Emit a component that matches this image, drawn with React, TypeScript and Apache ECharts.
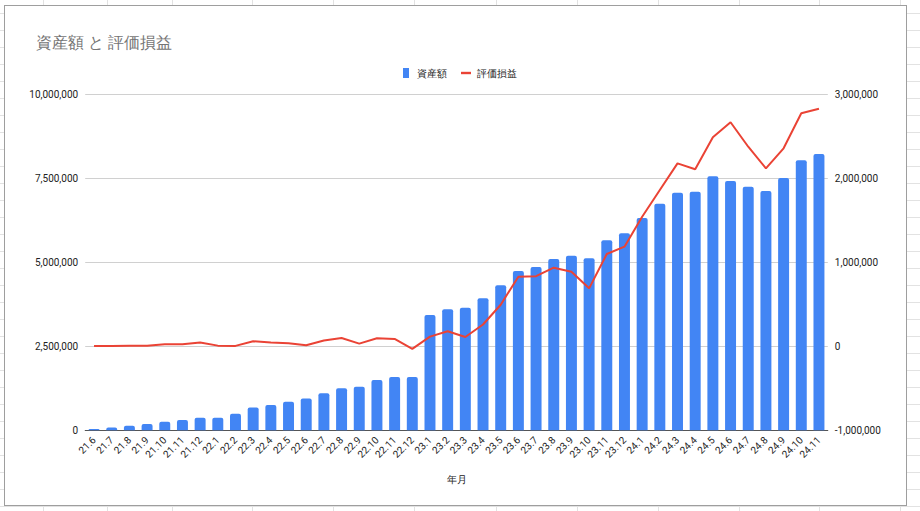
import React, { useEffect, useRef } from "react";
import * as echarts from "echarts";

const categories = [
  "21.6", "21.7", "21.8", "21.9", "21.10", "21.11", "21.12",
  "22.1", "22.2", "22.3", "22.4", "22.5", "22.6", "22.7", "22.8", "22.9", "22.10", "22.11", "22.12",
  "23.1", "23.2", "23.3", "23.4", "23.5", "23.6", "23.7", "23.8", "23.9", "23.10", "23.11", "23.12",
  "24.1", "24.2", "24.3", "24.4", "24.5", "24.6", "24.7", "24.8", "24.9", "24.10", "24.11",
];

const assets = [
  40000, 85000, 135000, 185000, 255000, 305000, 370000,
  370000, 490000, 680000, 750000, 850000, 945000, 1105000, 1255000, 1295000, 1495000, 1585000, 1585000,
  3430000, 3605000, 3650000, 3930000, 4315000, 4740000, 4860000, 5100000, 5195000, 5120000, 5655000, 5865000,
  6320000, 6745000, 7070000, 7100000, 7560000, 7420000, 7250000, 7120000, 7510000, 8035000, 8225000,
];

const gains = [
  3000, 5000, 8000, 8000, 24000, 24000, 44000,
  8000, 5000, 60000, 44000, 36000, 12000, 68000, 99000, 32000, 95000, 87000, -30000,
  115000, 179000, 111000, 260000, 495000, 829000, 835000, 936000, 888000, 690000, 1099000, 1186000,
  1543000, 1861000, 2178000, 2107000, 2488000, 2667000, 2376000, 2119000, 2357000, 2774000, 2829000,
];

const leftTicks = [0, 2500000, 5000000, 7500000, 10000000];
const rightTicks = [-1000000, 0, 1000000, 2000000, 3000000];

const title = "資産額 と 評価損益";
const seriesNames = ["資産額", "評価損益"];
const xAxisName = "年月";

const sheetVLines = [43, 107, 172, 252, 333, 414, 496, 577, 658, 739, 819, 900];

const fmt = (v: number) => v.toLocaleString("en-US");

export default function App() {
  const ref = useRef<HTMLDivElement>(null);

  useEffect(() => {
    if (!ref.current) return;
    const chart = echarts.init(ref.current, undefined, { renderer: "svg" });
    const font = "Roboto, Arial, sans-serif";
    chart.setOption({
      animation: false,
      title: {
        text: title,
        left: 31,
        top: 29,
        textStyle: { fontSize: 16, fontWeight: "normal", color: "#757575", fontFamily: font },
      },
      legend: {
        left: "center",
        top: 63,
        itemWidth: 10,
        itemHeight: 10,
        itemGap: 14,
        textStyle: { fontSize: 10, color: "#222", fontFamily: font, padding: [0, 0, 0, 1] },
        data: [
          { name: seriesNames[0], icon: "path://M0,0 L6,0 L6,10 L0,10 Z" },
          { name: seriesNames[1], icon: "path://M0,0 L10,0 L10,2.4 L0,2.4 Z" },
        ],
      },
      grid: { left: 85.2, right: 92.2, top: 94.3, bottom: 80.7, containLabel: false },
      xAxis: {
        type: "category",
        data: categories,
        name: xAxisName,
        nameLocation: "middle",
        nameGap: 44,
        nameTextStyle: { fontSize: 10, color: "#222", fontFamily: font },
        axisLine: { lineStyle: { color: "#555", width: 1 } },
        axisTick: { show: false },
        axisLabel: { rotate: 45, interval: 0, fontSize: 10, color: "#222", margin: 8, fontFamily: font },
      },
      yAxis: [
        {
          type: "value",
          min: leftTicks[0],
          max: leftTicks[leftTicks.length - 1],
          interval: leftTicks[1] - leftTicks[0],
          axisLine: { show: false },
          axisTick: { show: false },
          splitLine: { lineStyle: { color: "#d0d0d0", width: 1 } },
          axisLabel: { fontSize: 10, color: "#222", margin: 7, fontFamily: font, formatter: (v: number) => fmt(v) },
        },
        {
          type: "value",
          min: rightTicks[0],
          max: rightTicks[rightTicks.length - 1],
          interval: rightTicks[1] - rightTicks[0],
          axisLine: { show: false },
          axisTick: { show: false },
          splitLine: { show: false },
          axisLabel: { fontSize: 10, color: "#222", margin: 7, fontFamily: font, formatter: (v: number) => fmt(v) },
        },
      ],
      series: [
        {
          name: seriesNames[0],
          type: "bar",
          data: assets,
          yAxisIndex: 0,
          barWidth: "62%",
          itemStyle: { color: "#4285f4", borderRadius: [2, 2, 0, 0] },
        },
        {
          name: seriesNames[1],
          type: "line",
          data: gains,
          yAxisIndex: 1,
          showSymbol: false,
          symbol: "none",
          lineStyle: { color: "#ea4335", width: 2 },
          itemStyle: { color: "#ea4335" },
          z: 3,
        },
      ],
    });
    return () => chart.dispose();
  }, []);

  return (
    <div
      style={{
        position: "absolute",
        left: 0,
        top: 0,
        width: 920,
        height: 511,
        overflow: "hidden",
        background: "#fff",
        backgroundImage: "repeating-linear-gradient(to bottom, transparent 0px, transparent 13px, #e2e2e2 13px, #e2e2e2 14px, transparent 14px, transparent 17px)",
      }}
    >
      {sheetVLines.map((x) => (
        <div key={x} style={{ position: "absolute", left: x, top: 0, width: 1, height: 511, background: "#e2e2e2" }} />
      ))}
      <div
        style={{
          position: "absolute",
          left: 4,
          top: 5,
          width: 901,
          height: 499,
          background: "#fff",
          border: "1px solid #9e9e9e",
        }}
      />
      <div ref={ref} style={{ position: "absolute", left: 0, top: 0, width: 920, height: 511 }} />
    </div>
  );
}
